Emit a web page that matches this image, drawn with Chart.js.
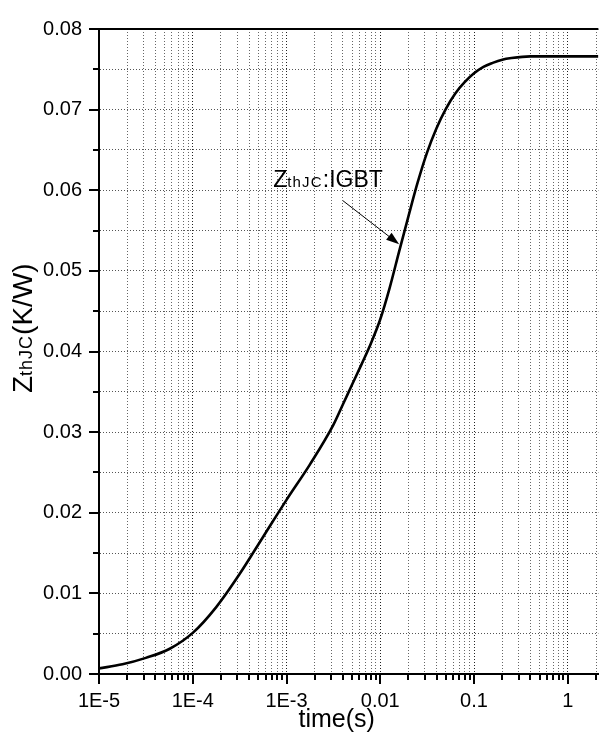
<!DOCTYPE html>
<html>
<head>
<meta charset="utf-8">
<script src="https://cdn.jsdelivr.net/npm/chart.js@4.4.1/dist/chart.umd.min.js"></script>
<style>
  html, body { margin: 0; padding: 0; background: #fff; }
  #wrap { width: 611px; height: 741px; position: relative; }
</style>
</head>
<body>
<div id="wrap"><canvas id="zthChart"></canvas></div>
<script>
// transient thermal impedance, junction to case (IGBT)
const timeS = [1e-5, 1.78e-5, 3.16e-5, 5.62e-5, 1e-4, 1.78e-4, 3.16e-4, 5.62e-4, 1e-3, 1.78e-3,
  3.16e-3, 3.98e-3, 5.01e-3, 6.31e-3, 7.94e-3, 1e-2, 1.26e-2, 1.58e-2, 2e-2, 2.51e-2, 3.16e-2,
  3.98e-2, 5.01e-2, 6.31e-2, 7.94e-2, 0.1, 0.126, 0.158, 0.2, 0.251, 0.398, 1, 2.12];
const zthJC = [0.0007, 0.0012, 0.0020, 0.0031, 0.0051, 0.0083, 0.0124, 0.0170, 0.0216, 0.0260,
  0.0309, 0.0334, 0.0359, 0.0384, 0.0410, 0.0440, 0.0479, 0.0523, 0.0568, 0.0610, 0.0647,
  0.0677, 0.0701, 0.0720, 0.0734, 0.0745, 0.0753, 0.0758, 0.0762, 0.0764, 0.0766, 0.0766, 0.0766];

const xDecades = [1e-5, 1e-4, 1e-3, 1e-2, 0.1, 1];
const xDecadeLabels = ['1E-5', '1E-4', '1E-3', '0.01', '0.1', '1'];
const yTickValues = [0, 0.005, 0.01, 0.015, 0.02, 0.025, 0.03, 0.035, 0.04, 0.045, 0.05, 0.055, 0.06, 0.065, 0.07, 0.075, 0.08];
const yTickLabels = ['0.00', '', '0.01', '', '0.02', '', '0.03', '', '0.04', '', '0.05', '', '0.06', '', '0.07', '', '0.08'];

// 1..9 per decade for the log axis
const xTickValues = [];
xDecades.forEach(d => { for (let k = 1; k <= 9; k++) { const v = +(d * k).toPrecision(3); if (v <= 2.12) xTickValues.push(v); } });

const FONT = "'Liberation Sans', Arial, sans-serif";
const isDecade = v => xDecades.some(d => Math.abs(v - d) / d < 1e-6);

// label pieces: [text, size, letterSpacing]
function drawRich(ctx, x, y, parts) {
  let cx = x;
  parts.forEach(([t, size, sp]) => {
    ctx.font = size + 'px ' + FONT;
    ctx.letterSpacing = (sp || 0) + 'px';
    ctx.fillText(t, cx, y);
    cx += ctx.measureText(t).width;
  });
  ctx.letterSpacing = '0px';
}

const frame = {
  id: 'frame',
  afterDraw(chart) {
    const { ctx, chartArea: a, scales: { x, y } } = chart;
    ctx.save();
    ctx.strokeStyle = '#000';
    ctx.lineWidth = 2;
    // top border
    ctx.beginPath(); ctx.moveTo(a.left - 1, a.top); ctx.lineTo(a.right, a.top); ctx.stroke();
    // outward tick marks
    ctx.beginPath();
    xTickValues.forEach(v => {
      const px = Math.round(x.getPixelForValue(v));
      ctx.moveTo(px, a.bottom); ctx.lineTo(px, a.bottom + (isDecade(v) ? 10 : 6));
    });
    yTickValues.forEach((v, i) => {
      const py = Math.round(y.getPixelForValue(v));
      ctx.moveTo(a.left, py); ctx.lineTo(a.left - (yTickLabels[i] ? 10 : 6), py);
    });
    ctx.stroke();

    ctx.fillStyle = '#000';
    ctx.textBaseline = 'alphabetic';
    // x title
    ctx.font = '25px ' + FONT;
    ctx.textAlign = 'center';
    ctx.fillText('time(s)', (a.left + a.right) / 2 - 12, a.bottom + 53);
    ctx.textAlign = 'left';
    // y title, rotated
    ctx.save();
    ctx.translate(32, 393);
    ctx.rotate(-Math.PI / 2);
    drawRich(ctx, 0, 0, [['Z', 28], ['thJC', 18, 1], ['(K/W)', 28]]);
    ctx.restore();

    // curve annotation
    const tx = x.getPixelForValue(7.2e-4), ty = y.getPixelForValue(0.0604);
    drawRich(ctx, tx, ty, [['Z', 23], ['thJC', 15, 1.2], [':IGBT', 23]]);
    const x0 = x.getPixelForValue(4.0e-3), y0 = y.getPixelForValue(0.0587);
    const x1 = x.getPixelForValue(0.0159), y1 = y.getPixelForValue(0.0533);
    const ang = Math.atan2(y1 - y0, x1 - x0);
    ctx.lineWidth = 1;
    ctx.beginPath(); ctx.moveTo(x0, y0);
    ctx.lineTo(x1 - 10 * Math.cos(ang), y1 - 10 * Math.sin(ang)); ctx.stroke();
    ctx.beginPath();
    ctx.moveTo(x1, y1);
    ctx.lineTo(x1 - 13 * Math.cos(ang) + 4.5 * Math.sin(ang), y1 - 13 * Math.sin(ang) - 4.5 * Math.cos(ang));
    ctx.lineTo(x1 - 13 * Math.cos(ang) - 4.5 * Math.sin(ang), y1 - 13 * Math.sin(ang) + 4.5 * Math.cos(ang));
    ctx.closePath(); ctx.fill();
    ctx.restore();
  }
};

new Chart(document.getElementById('zthChart'), {
  type: 'line',
  data: {
    datasets: [{
      data: timeS.map((t, i) => ({ x: t, y: zthJC[i] })),
      borderColor: '#000',
      borderWidth: 2.6,
      pointRadius: 0,
      cubicInterpolationMode: 'monotone',
      fill: false
    }]
  },
  options: {
    responsive: true,
    maintainAspectRatio: false,
    animation: false,
    layout: { padding: { top: 15, right: 0, left: 0, bottom: 0 } },
    plugins: { legend: { display: false }, tooltip: { enabled: false } },
    scales: {
      x: {
        type: 'logarithmic',
        min: 1e-5,
        max: 2.12,
        afterBuildTicks: s => { s.ticks = xTickValues.map(v => ({ value: v })); },
        afterFit: s => { s.height = 67; },
        ticks: {
          autoSkip: false,
          maxRotation: 0,
          padding: 15,
          color: '#000',
          font: { family: FONT, size: 20 },
          callback: v => { const i = xDecades.findIndex(d => Math.abs(v - d) / d < 1e-6); return i >= 0 ? xDecadeLabels[i] : ''; }
        },
        grid: {
          drawTicks: false,
          lineWidth: 1,
          color: c => (c.tick && isDecade(c.tick.value)) ? '#222' : '#666'
        },
        border: { display: true, color: '#000', width: 2, dash: [1, 2] }
      },
      y: {
        min: 0,
        max: 0.08,
        afterBuildTicks: s => { s.ticks = yTickValues.map(v => ({ value: v })); },
        afterFit: s => { s.width = 99; },
        ticks: {
          autoSkip: false,
          padding: 17,
          color: '#000',
          font: { family: FONT, size: 20 },
          callback: (v, i) => yTickLabels[i]
        },
        grid: {
          drawTicks: false,
          lineWidth: 1,
          color: '#555'
        },
        border: { display: true, color: '#000', width: 2, dash: [1, 2] }
      }
    }
  },
  plugins: [frame]
});
</script>
</body>
</html>
